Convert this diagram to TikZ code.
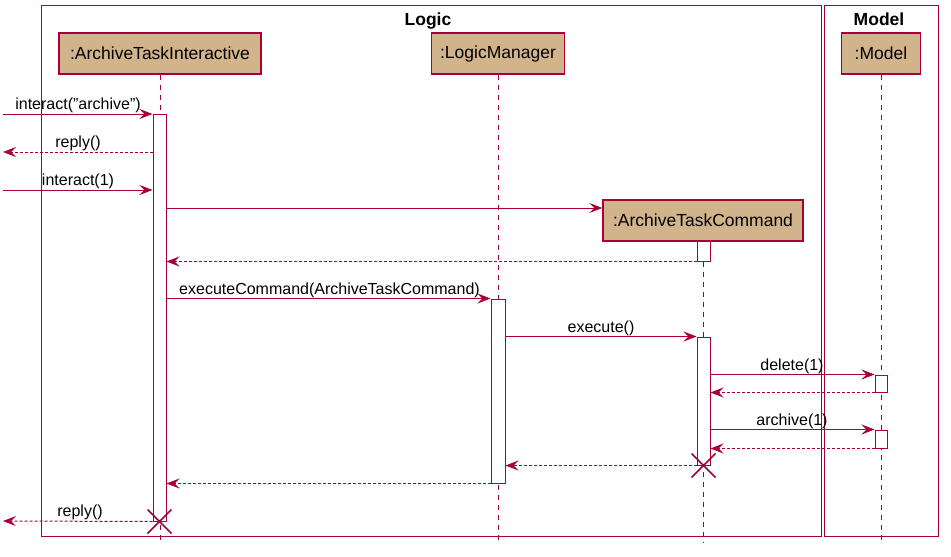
\documentclass[tikz,border=0pt]{standalone}
\usepackage{fontspec}
\setmainfont{Liberation Sans}
\usetikzlibrary{arrows.meta}
\definecolor{umlred}{HTML}{A80036}
\definecolor{umltan}{HTML}{D2B48C}
\tikzset{
  participant/.style={draw=umlred, fill=umltan, line width=1.4pt, inner sep=0pt,
    minimum height=41pt, font=\fontsize{17.5}{20}\selectfont},
  activation/.style={draw=umlred, fill=white, line width=1pt, inner sep=0pt},
  lifeline/.style={draw=umlred, line width=1pt, dash pattern=on 5pt off 5pt},
  groupbox/.style={draw=umlred, line width=1pt},
  grouptitle/.style={font=\fontsize{17.5}{20}\selectfont\bfseries, anchor=base},
  call/.style={draw=umlred, line width=1pt, -{Stealth[length=13pt,width=10pt,inset=5pt]}},
  ret/.style={call, dash pattern=on 3pt off 2pt},
  msg/.style={font=\fontsize{16}{18}\selectfont, anchor=base, inner sep=0pt},
  destroy/.style={draw=umlred, line width=1.6pt}
}
\begin{document}
\begin{tikzpicture}[x=1pt, y=-1pt]
\useasboundingbox (0,0) rectangle (951,557);
\fill[white] (0,0) rectangle (951,557);

% package frames
\draw[groupbox] (41,5) rectangle (821,536);
\draw[groupbox] (824,5) rectangle (938,536);
\node[grouptitle] (tLogic) at (428,25) {Logic};
\node[grouptitle] (tModel) at (879,25) {Model};

% participants
\node[participant, minimum width=202pt] (pI) at (160,53.5) {:ArchiveTaskInteractive};
\node[participant, minimum width=133pt] (pL) at (498,53.5) {:LogicManager};
\node[participant, minimum width=79pt]  (pM) at (881,53.5) {:Model};

% lifelines
\coordinate (bottom) at (0,543);
\draw[lifeline] (pI.south) -- (pI.south |- bottom);
\draw[lifeline] (pL.south) -- (pL.south |- bottom);
\draw[lifeline] (pM.south) -- (pM.south |- bottom);

% created participant and its lifeline
\node[participant, minimum width=200pt] (pC) at (703,220.5) {:ArchiveTaskCommand};
\draw[lifeline] (pC.south) -- (pC.south |- bottom);

% activation bars
\node[activation, minimum width=13pt, minimum height=407pt] (actI)  at (159.5,317.5) {};
\node[activation, minimum width=13pt, minimum height=20pt]  (actC1) at (703.5,251) {};
\node[activation, minimum width=13pt, minimum height=128pt] (actC2) at (703.5,401) {};
\node[activation, minimum width=14pt, minimum height=184pt] (actL)  at (498,391) {};
\node[activation, minimum width=12pt, minimum height=17pt]  (actM1) at (881,383.5) {};
\node[activation, minimum width=12pt, minimum height=18pt]  (actM2) at (881,439) {};

% external message ends
\coordinate (ext1)  at (3,114);
\coordinate (ext2)  at (3,152);
\coordinate (ext3)  at (3,190);
\coordinate (ext14) at (3,521);
\coordinate (create) at (0,208);

% messages
\draw[call] (ext1) -- (ext1 -| actI.west);
\node[msg] (l1) at (78,109) {interact("archive")};

\draw[ret] (ext2 -| actI.west) -- (ext2);
\node[msg] (l2) at (78,147) {reply()};

\draw[call] (ext3) -- (ext3 -| actI.west);
\node[msg] (l3) at (78,185) {interact(1)};

\draw[call] (create -| actI.east) -- (create -| pC.west);

\draw[ret] (actC1.south west) -- (actC1.south west -| actI.east);

\draw[call] (actL.north west -| actI.east) -- (actL.north west);
\node[msg] (l6) at (329.5,294) {executeCommand(ArchiveTaskCommand)};

\draw[call] (actC2.north west -| actL.east) -- (actC2.north west);
\node[msg] (l7) at (601,332) {execute()};

\draw[call] (actM1.north west -| actC2.east) -- (actM1.north west);
\node[msg] (l8) at (792,370) {delete(1)};

\draw[ret] (actM1.south west) -- (actM1.south west -| actC2.east);

\draw[call] (actM2.north west -| actC2.east) -- (actM2.north west);
\node[msg] (l10) at (792,425) {archive(1)};

\draw[ret] (actM2.south west) -- (actM2.south west -| actC2.east);

\draw[ret] (actC2.south west) -- (actC2.south west -| actL.east);

\draw[ret] (actL.south west) -- (actL.south west -| actI.east);

\draw[ret] (actI.south west) -- (ext14);
\node[msg] (l14) at (80,516) {reply()};

% destruction marks
\draw[destroy] ([shift={(-12,-12)}]actC2.south) -- ([shift={(12,12)}]actC2.south)
               ([shift={(-12,12)}]actC2.south) -- ([shift={(12,-12)}]actC2.south);
\draw[destroy] ([shift={(-12,-12)}]actI.south) -- ([shift={(12,12)}]actI.south)
               ([shift={(-12,12)}]actI.south) -- ([shift={(12,-12)}]actI.south);
\end{tikzpicture}
\end{document}
